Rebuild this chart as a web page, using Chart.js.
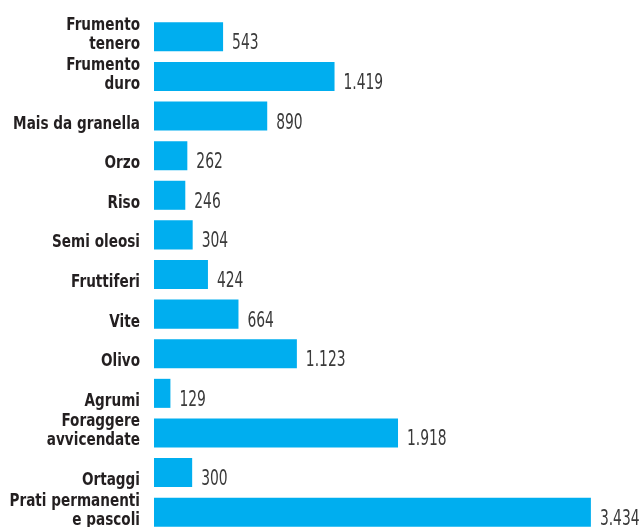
<!DOCTYPE html>
<html>
<head>
<meta charset="utf-8">
<script src="https://cdn.jsdelivr.net/npm/chart.js@4"></script>
<style>
  html, body { margin: 0; padding: 0; background: #fff; overflow: hidden; }
  #wrap { position: relative; width: 640px; height: 532px; }
</style>
</head>
<body>
<div id="wrap"><canvas id="my-chart"></canvas></div>
<script>
'use strict';

// **** Data ****

let cropNames = [
  ['Frumento', 'tenero'],
  ['Frumento', 'duro'],
  ['Mais da granella'],
  ['Orzo'],
  ['Riso'],
  ['Semi oleosi'],
  ['Fruttiferi'],
  ['Vite'],
  ['Olivo'],
  ['Agrumi'],
  ['Foraggere', 'avvicendate'],
  ['Ortaggi'],
  ['Prati permanenti', 'e pascoli']
];
let cropValues = [543, 1419, 890, 262, 246, 304, 424, 664, 1123, 129, 1918, 300, 3434];

// **** Helpers ****

const labelFont = '"DejaVu Sans Condensed", "DejaVu Sans", sans-serif';
const nameSqueeze = 0.84;
const valueSqueeze = 0.7;

function formatNumber(n) {
  return String(n).replace(/\B(?=(\d{3})+(?!\d))/g, '.');
}

// fillText squeezed horizontally, to get a narrow DIN-like look
function squeezedText(ctx, text, x, y, sx) {
  ctx.save();
  ctx.translate(x, y);
  ctx.scale(sx, 1);
  ctx.fillText(text, 0, 0);
  ctx.restore();
}

// draws crop names left of each bar and the value right of it,
// both sitting on the bar's bottom edge
let barTextPlugin = {
  id: 'barText',
  afterDatasetsDraw(chart) {
    let ctx = chart.ctx;
    let meta = chart.getDatasetMeta(0);
    ctx.save();
    ctx.textBaseline = 'alphabetic';
    meta.data.forEach(function (bar, i) {
      let bottom = bar.y + bar.height / 2;

      // category name
      ctx.font = 'bold 18px ' + labelFont;
      ctx.fillStyle = '#231f20';
      ctx.textAlign = 'right';
      let lines = cropNames[i];
      for (let j = 0; j < lines.length; j++) {
        let y = bottom - 2 - (lines.length - 1 - j) * 19;
        squeezedText(ctx, lines[j], 140, y, nameSqueeze);
      }

      // value
      ctx.font = '22px ' + labelFont;
      ctx.fillStyle = '#3a3a3a';
      ctx.textAlign = 'left';
      squeezedText(ctx, formatNumber(cropValues[i]), bar.x + 9, bottom - 2, valueSqueeze);
    });
    ctx.restore();
  }
};

// **** Chart ****

let ctx = document.getElementById('my-chart').getContext('2d');

let myChartObj = {
  type: 'bar',
  data: {
    labels: cropNames,
    datasets: [{
      data: cropValues,
      backgroundColor: '#00aeef',
      borderWidth: 0,
      barPercentage: 0.733,
      categoryPercentage: 1
    }]
  },
  options: {
    indexAxis: 'y',
    responsive: true,
    maintainAspectRatio: false,
    animation: false,
    devicePixelRatio: 1,
    layout: {
      padding: { left: 154, top: 17, right: 0, bottom: 0 }
    },
    plugins: {
      legend: { display: false },
      tooltip: { enabled: false }
    },
    scales: {
      x: {
        display: false,
        min: 0,
        max: 3820
      },
      y: {
        display: false
      }
    }
  },
  plugins: [barTextPlugin]
};

new Chart(ctx, myChartObj);
</script>
</body>
</html>
